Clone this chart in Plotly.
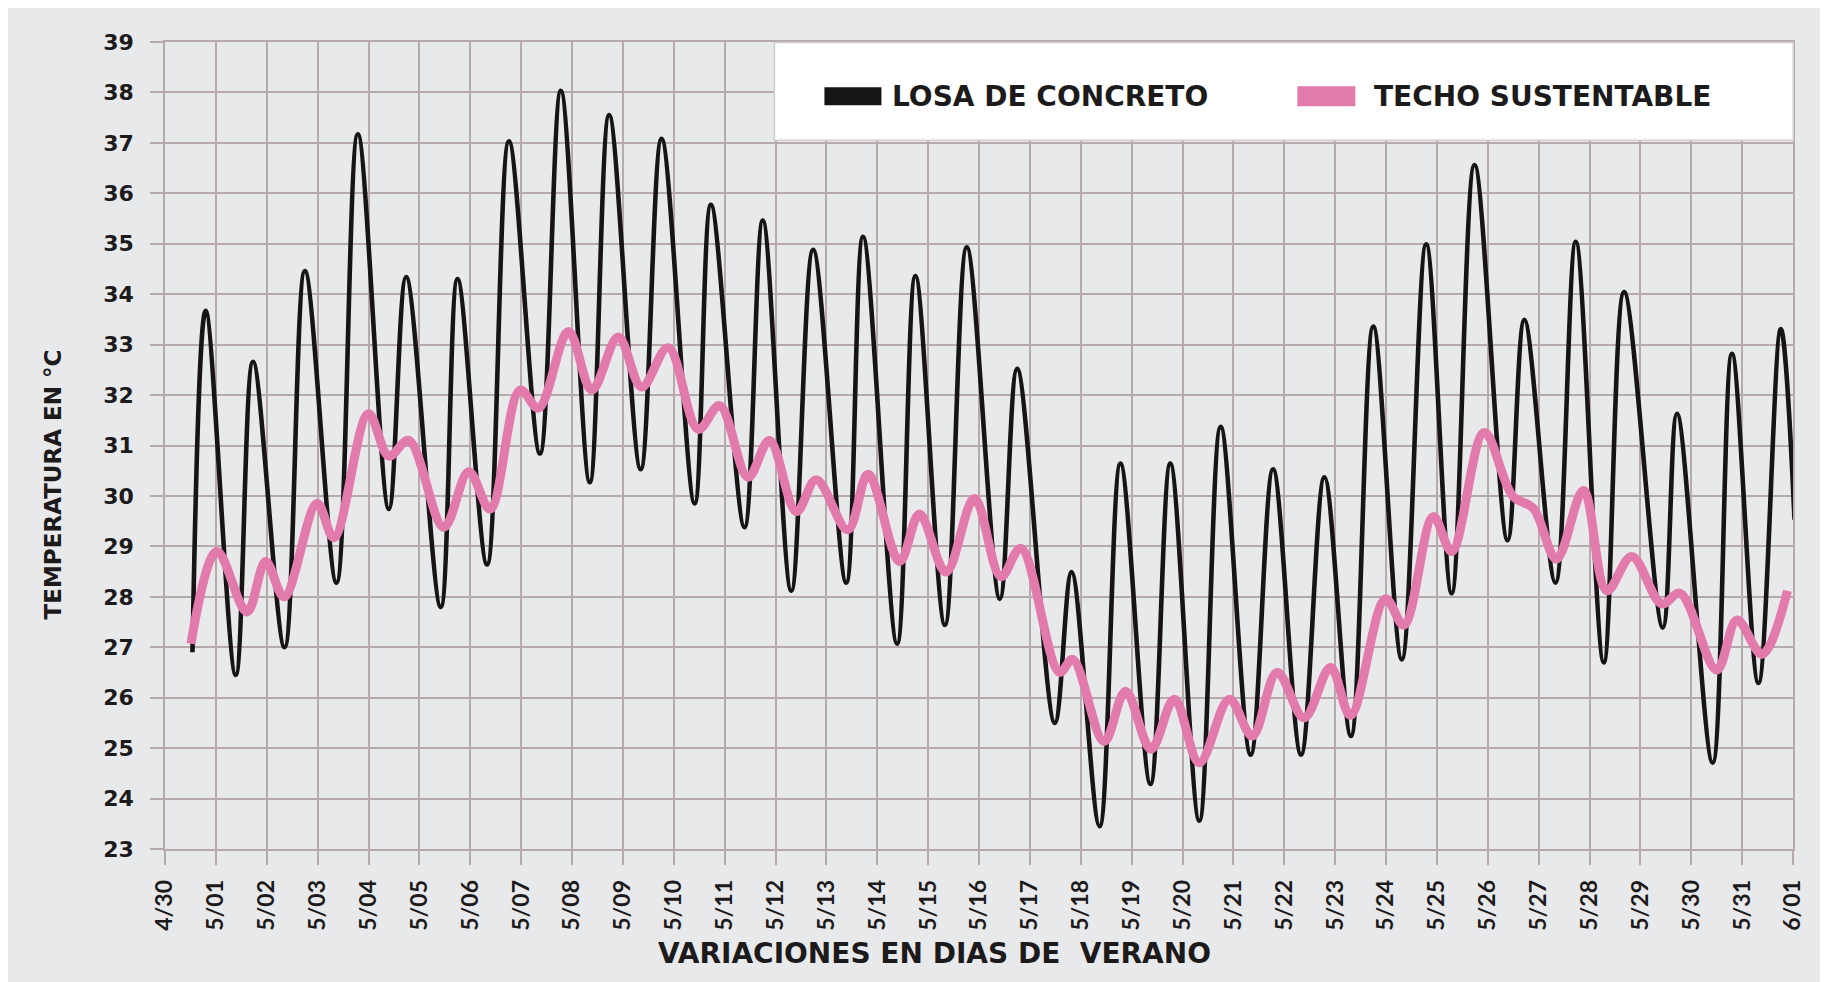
import plotly.graph_objects as go

# ---------------- data ----------------
day_labels = ["4/30", "5/01", "5/02", "5/03", "5/04", "5/05", "5/06", "5/07", "5/08",
              "5/09", "5/10", "5/11", "5/12", "5/13", "5/14", "5/15", "5/16", "5/17",
              "5/18", "5/19", "5/20", "5/21", "5/22", "5/23", "5/24", "5/25", "5/26",
              "5/27", "5/28", "5/29", "5/30", "5/31", "6/01"]
day_positions = list(range(len(day_labels)))   # days since 4/30

temp_ticks = list(range(23, 40))

# LOSA DE CONCRETO (days since 4/30, temperature in C)
concrete_day = [0.54, 0.80, 1.39, 1.73, 2.35, 2.75, 3.37, 3.79, 4.40, 4.74, 5.42, 5.75,
                6.33, 6.76, 7.37, 7.78, 8.35, 8.73, 9.35, 9.76, 10.41, 10.73, 11.39, 11.75,
                12.31, 12.74, 13.39, 13.72, 14.39, 14.75, 15.33, 15.76, 16.41, 16.75, 17.49,
                17.82, 18.37, 18.78, 19.37, 19.76, 20.33, 20.75, 21.34, 21.78, 22.33, 22.79,
                23.31, 23.75, 24.31, 24.79, 25.29, 25.74, 26.39, 26.72, 27.33, 27.73, 28.28,
                28.68, 29.44, 29.72, 30.42, 30.80, 31.32, 31.76, 32.03]
concrete_temp = [26.9, 33.67, 26.45, 32.66, 27.0, 34.46, 28.28, 37.17, 29.74, 34.34, 27.8, 34.3,
                 28.64, 37.03, 30.84, 38.03, 30.27, 37.55, 30.53, 37.08, 29.85, 35.77, 29.38, 35.46,
                 28.12, 34.88, 28.28, 35.14, 27.07, 34.36, 27.44, 34.93, 27.96, 32.52, 25.5,
                 28.49, 23.45, 30.64, 24.29, 30.64, 23.56, 31.37, 24.87, 30.53, 24.87, 30.37,
                 25.24, 33.36, 26.76, 34.99, 28.07, 36.56, 29.12, 33.49, 28.28, 35.04, 26.7,
                 34.04, 27.39, 31.63, 24.71, 32.82, 26.29, 33.31, 29.53]

# TECHO SUSTENTABLE
roof_day = [0.51, 1.02, 1.61, 1.98, 2.34, 2.99, 3.32, 4.00, 4.40, 4.79, 5.48, 5.97,
            6.39, 6.98, 7.34, 7.93, 8.39, 8.91, 9.37, 9.89, 10.48, 10.90, 11.46, 11.88,
            12.41, 12.80, 13.42, 13.82, 14.44, 14.83, 15.35, 15.91, 16.43, 16.82, 17.58,
            17.84, 18.46, 18.88, 19.38, 19.84, 20.33, 20.92, 21.37, 21.86, 22.39, 22.91,
            23.30, 23.99, 24.35, 24.93, 25.29, 25.93, 26.49, 26.90, 27.35, 27.88, 28.34,
            28.83, 29.42, 29.78, 30.50, 30.90, 31.39, 31.89]
roof_temp = [27.07, 28.9, 27.7, 28.7, 28.0, 29.85, 29.17, 31.63, 30.79, 31.1, 29.38, 30.48,
             29.74, 32.1, 31.74, 33.26, 32.1, 33.15, 32.16, 32.94, 31.32, 31.79, 30.37, 31.1,
             29.69, 30.32, 29.33, 30.43, 28.7, 29.64, 28.49, 29.95, 28.4, 28.96, 26.5,
             26.76, 25.13, 26.13, 24.98, 25.97, 24.71, 25.97, 25.24, 26.5, 25.6, 26.6,
             25.65, 27.96, 27.44, 29.59, 28.9, 31.26, 30.0, 29.75, 28.75, 30.11, 28.12,
             28.8, 27.86, 28.07, 26.55, 27.54, 26.86, 28.12]

series_names = ["LOSA DE CONCRETO", "TECHO SUSTENTABLE"]
x_title = "VARIACIONES EN DIAS DE  VERANO"
y_title = "TEMPERATURA EN °C"

# ---------------- styling ----------------
W, H = 1828, 982
OFF = 8  # page body margin offset
ML, MT = 164.5 - OFF, 41.6 - OFF
MR = W - (1792.7 - OFF)
MB = H - (849.5 - OFF)
PW, PH = W - ML - MR, H - MT - MB

BLACK = "#171415"
PINK = "#e27aab"
GRID = "#b6aaaa"
BG = "#e8e9eb"
TEXT = "#1c1a1b"


def px(xp):
    return (xp - OFF - ML) / PW


def py(yp):
    return (H - MB - (yp - OFF)) / PH


fig = go.Figure()
fig.add_trace(go.Scatter(
    x=concrete_day, y=concrete_temp, mode="lines", name=series_names[0],
    line=dict(color=BLACK, width=4.6, shape="spline", smoothing=1.0),
    showlegend=False, hoverinfo="x+y"))
fig.add_trace(go.Scatter(
    x=roof_day, y=roof_temp, mode="lines", name=series_names[1],
    line=dict(color=PINK, width=9, shape="spline", smoothing=1.0),
    showlegend=False, hoverinfo="x+y"))

shapes = [
    # legend box
    dict(type="rect", xref="paper", yref="paper", x0=px(774), x1=px(1793), y0=py(140), y1=py(42),
         fillcolor="white", line=dict(color="#cfcfcf", width=1.5), layer="above"),
    dict(type="rect", xref="paper", yref="paper", x0=px(824), x1=px(881), y0=py(105), y1=py(87),
         fillcolor=BLACK, line_width=0, layer="above"),
    dict(type="rect", xref="paper", yref="paper", x0=px(1297), x1=px(1355), y0=py(106), y1=py(86),
         fillcolor=PINK, line_width=0, layer="above"),
]

legend_font = dict(family="DejaVu Sans", size=28, color=TEXT, weight=700)
annotations = [
    dict(xref="paper", yref="paper", x=px(890), y=py(96), text=series_names[0],
         showarrow=False, xanchor="left", yanchor="middle", font=legend_font),
    dict(xref="paper", yref="paper", x=px(1372), y=py(96), text=series_names[1],
         showarrow=False, xanchor="left", yanchor="middle", font=legend_font),
    dict(xref="paper", yref="paper", x=px(934), y=py(954), text=x_title,
         showarrow=False, xanchor="center", yanchor="middle",
         font=dict(family="DejaVu Sans", size=28, color=TEXT, weight=700)),
    dict(xref="paper", yref="paper", x=px(52), y=py(485), text=y_title, textangle=-90,
         showarrow=False, xanchor="center", yanchor="middle",
         font=dict(family="DejaVu Sans", size=23, color=TEXT, weight=700)),
]

fig.update_layout(
    width=W, height=H,
    margin=dict(l=ML, r=MR, t=MT, b=MB, pad=0),
    paper_bgcolor=BG, plot_bgcolor=BG,
    shapes=shapes, annotations=annotations,
    showlegend=False,
    xaxis=dict(
        range=[0, 32], tickmode="array", tickvals=day_positions, ticktext=day_labels,
        tickangle=-90, ticks="outside", ticklen=14, tickwidth=1.6, tickcolor=GRID,
        showgrid=True, gridcolor=GRID, gridwidth=1.6,
        showline=True, linecolor=GRID, linewidth=1.6, mirror=True,
        zeroline=False, ticklabelstandoff=6,
        tickfont=dict(family="Lato", size=23, color=TEXT, weight=700),
    ),
    yaxis=dict(
        range=[23, 39], tickmode="array", tickvals=temp_ticks,
        ticks="outside", ticklen=13, tickwidth=1.6, tickcolor=GRID,
        showgrid=True, gridcolor=GRID, gridwidth=1.6,
        showline=True, linecolor=GRID, linewidth=1.6, mirror=True,
        zeroline=False, ticklabelstandoff=12,
        tickfont=dict(family="DejaVu Sans", size=22, color=TEXT, weight=700),
    ),
)

fig.write_html("out.html")
